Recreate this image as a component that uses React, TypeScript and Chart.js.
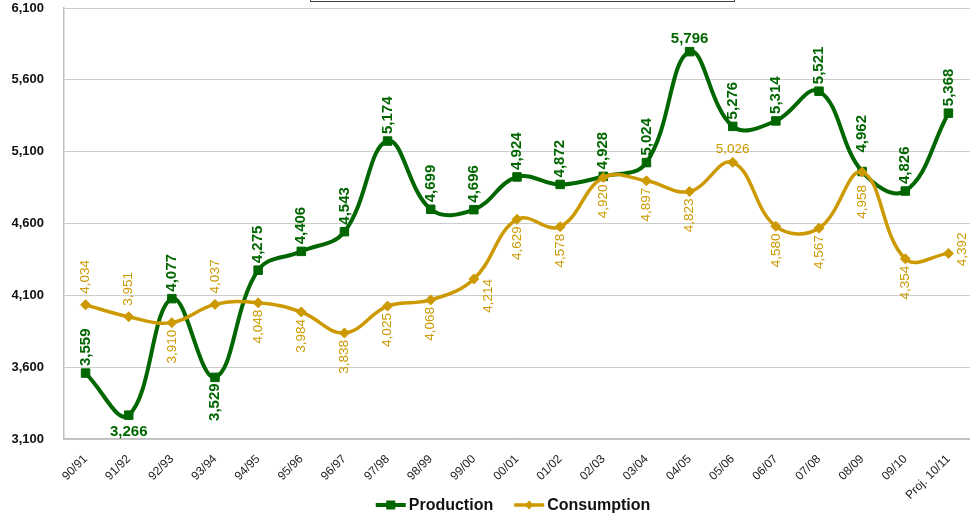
import React, { useEffect, useRef } from 'react';
import { Chart, registerables } from 'chart.js';

Chart.register(...registerables);

const categories = ['90/91', '91/92', '92/93', '93/94', '94/95', '95/96', '96/97', '97/98', '98/99', '99/00', '00/01', '01/02', '02/03', '03/04', '04/05', '05/06', '06/07', '07/08', '08/09', '09/10', 'Proj. 10/11'];
const production = [3559, 3266, 4077, 3529, 4275, 4406, 4543, 5174, 4699, 4696, 4924, 4872, 4928, 5024, 5796, 5276, 5314, 5521, 4962, 4826, 5368];
const consumption = [4034, 3951, 3910, 4037, 4048, 3984, 3838, 4025, 4068, 4214, 4629, 4578, 4920, 4897, 4823, 5026, 4580, 4567, 4958, 4354, 4392];
const yMin = 3100;
const yMax = 6100;
const yStep = 500;

// label placement modes (style, not data)
const prodModes = ['up', 'downH', 'up', 'down', 'up', 'up', 'up', 'up', 'up', 'up', 'up', 'up', 'up', 'up', 'upH', 'up', 'up', 'up', 'upFar', 'up', 'up'];
const consModes = ['up', 'up', 'down', 'up', 'down', 'down', 'down', 'down', 'down', 'rightDown', 'down', 'down', 'down', 'down', 'down', 'upH', 'down', 'down', 'downFar', 'down', 'right'];

const GREEN = '#006600';
const GOLD = '#CC9900';
const FONT = '"Liberation Sans", Arial, sans-serif';

function fmt(v: number) {
  return v.toLocaleString('en-US');
}

function drawLabel(ctx: CanvasRenderingContext2D, text: string, x: number, y: number, mode: string, font: string, color: string, gapUp: number, gapDown: number) {
  ctx.save();
  ctx.font = font;
  ctx.fillStyle = color;
  ctx.textBaseline = 'middle';
  if (mode === 'up' || mode === 'upFar') {
    const g = mode === 'upFar' ? gapUp + 12 : gapUp;
    ctx.translate(x, y - g);
    ctx.rotate(-Math.PI / 2);
    ctx.textAlign = 'left';
    ctx.fillText(text, 0, 0);
  } else if (mode === 'down' || mode === 'downFar') {
    const g = mode === 'downFar' ? gapDown + 6 : gapDown;
    ctx.translate(x, y + g);
    ctx.rotate(-Math.PI / 2);
    ctx.textAlign = 'right';
    ctx.fillText(text, 0, 0);
  } else if (mode === 'upH') {
    ctx.textAlign = 'center';
    ctx.fillText(text, x, y - 13);
  } else if (mode === 'downH') {
    ctx.textAlign = 'center';
    ctx.fillText(text, x, y + 17);
  } else if (mode === 'right') {
    ctx.translate(x + 14, y - 4);
    ctx.rotate(-Math.PI / 2);
    ctx.textAlign = 'center';
    ctx.fillText(text, 0, 0);
  } else if (mode === 'rightDown') {
    ctx.translate(x + 14, y);
    ctx.rotate(-Math.PI / 2);
    ctx.textAlign = 'right';
    ctx.fillText(text, 0, 0);
  }
  ctx.restore();
}

const labelPlugin = {
  id: 'valueLabels',
  afterDatasetsDraw(chart: any) {
    const ctx = chart.ctx as CanvasRenderingContext2D;
    const pMeta = chart.getDatasetMeta(0);
    const cMeta = chart.getDatasetMeta(1);
    cMeta.data.forEach((pt: any, i: number) => {
      drawLabel(ctx, fmt(consumption[i]), pt.x, pt.y, consModes[i], `13.5px ${FONT}`, GOLD, 11, 7);
    });
    pMeta.data.forEach((pt: any, i: number) => {
      drawLabel(ctx, fmt(production[i]), pt.x, pt.y, prodModes[i], `bold 15px ${FONT}`, GREEN, 7, 6);
    });
  },
};

const decorPlugin = {
  id: 'decor',
  afterDraw(chart: any) {
    const ctx = chart.ctx as CanvasRenderingContext2D;
    ctx.save();
    // cut-off title box at top
    ctx.strokeStyle = '#404040';
    ctx.lineWidth = 1;
    ctx.strokeRect(310.5, -10, 424, 11.5);

    // legend
    const items = [
      { text: 'Production', color: GREEN, style: 'rect', lw: 4 },
      { text: 'Consumption', color: GOLD, style: 'diamond', lw: 3.5 },
    ];
    ctx.font = `bold 16px ${FONT}`;
    const lineLen = 30;
    const gapAfterLine = 3;
    const gapBetween = 21;
    const widths = items.map((it) => ctx.measureText(it.text).width);
    const total = items.reduce((s, _it, i) => s + lineLen + gapAfterLine + widths[i], 0) + gapBetween;
    const center = (chart.chartArea.left + chart.chartArea.right) / 2 - 4;
    let x = center - total / 2;
    const y = 505;
    items.forEach((it, i) => {
      ctx.strokeStyle = it.color;
      ctx.lineWidth = it.lw;
      ctx.beginPath();
      ctx.moveTo(x, y);
      ctx.lineTo(x + lineLen, y);
      ctx.stroke();
      ctx.fillStyle = it.color;
      const mx = x + lineLen / 2;
      if (it.style === 'rect') {
        ctx.fillRect(mx - 4.5, y - 4.5, 9, 9);
      } else {
        ctx.beginPath();
        ctx.moveTo(mx - 4.5, y);
        ctx.lineTo(mx, y - 4.5);
        ctx.lineTo(mx + 4.5, y);
        ctx.lineTo(mx, y + 4.5);
        ctx.closePath();
        ctx.fill();
      }
      ctx.fillStyle = '#111';
      ctx.textAlign = 'left';
      ctx.textBaseline = 'middle';
      ctx.fillText(it.text, x + lineLen + gapAfterLine, y + 1);
      x += lineLen + gapAfterLine + widths[i] + gapBetween;
    });
    ctx.restore();
  },
};

export default function App() {
  const ref = useRef<HTMLCanvasElement | null>(null);

  useEffect(() => {
    document.body.style.margin = '0';
    const canvas = ref.current;
    if (!canvas) return;
    const chart = new Chart(canvas, {
      type: 'line',
      data: {
        labels: categories,
        datasets: [
          {
            label: 'Production',
            data: production,
            borderColor: GREEN,
            backgroundColor: GREEN,
            borderWidth: 4,
            pointStyle: 'rect',
            pointRadius: 6,
            pointBorderWidth: 1,
            pointBackgroundColor: GREEN,
            pointBorderColor: GREEN,
            tension: 0.4,
            order: 1,
          },
          {
            label: 'Consumption',
            data: consumption,
            borderColor: GOLD,
            backgroundColor: GOLD,
            borderWidth: 3.5,
            pointStyle: 'rectRot',
            pointRadius: 5,
            pointBorderWidth: 1,
            pointBackgroundColor: GOLD,
            pointBorderColor: GOLD,
            tension: 0.4,
            order: 0,
          },
        ],
      },
      options: {
        responsive: false,
        animation: false,
        devicePixelRatio: 1,
        layout: { autoPadding: false, padding: { top: 8, right: 0, bottom: 0, left: 0 } },
        plugins: {
          legend: { display: false },
          tooltip: { enabled: false },
          title: { display: false },
        },
        scales: {
          x: {
            offset: true,
            grid: { display: false, drawTicks: false },
            border: { display: true, color: '#bfbfbf', width: 1.5 },
            ticks: {
              autoSkip: false,
              minRotation: 45,
              maxRotation: 45,
              padding: 13,
              color: '#222',
              font: { family: FONT, size: 12 },
            },
            afterFit: (s: any) => {
              s.height = 76;
              s.paddingLeft = 0;
              s.paddingRight = 0;
            },
          },
          y: {
            min: yMin,
            max: yMax,
            ticks: {
              stepSize: yStep,
              padding: 20,
              color: '#111',
              font: { family: FONT, size: 13, weight: 'bold' },
              callback: (v: any) => fmt(Number(v)),
            },
            grid: { color: '#cccccc', drawTicks: false, lineWidth: 1 },
            border: { display: true, color: '#bfbfbf', width: 1.5 },
            afterFit: (s: any) => {
              s.width = 64;
              s.paddingTop = 0;
              s.paddingBottom = 0;
            },
          },
        },
      },
      plugins: [labelPlugin, decorPlugin],
    } as any);
    return () => chart.destroy();
  }, []);

  return (
    <div style={{ position: 'absolute', left: 0, top: 0, width: 970, height: 515, background: '#fff' }}>
      <canvas ref={ref} width={970} height={515} style={{ display: 'block', width: 970, height: 515 }} />
    </div>
  );
}
